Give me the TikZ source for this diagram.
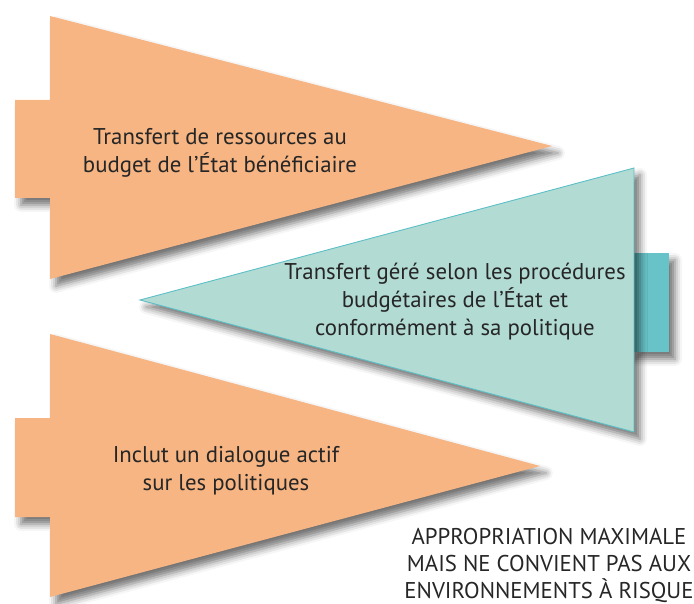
\documentclass[tikz,border=0pt]{standalone}
\usepackage{fontspec}
\setmainfont{PT Sans}
\usepackage{tikz}
\usetikzlibrary{shadows.blur}

\definecolor{peche}{HTML}{F6B583}
\definecolor{vertdeau}{HTML}{B2DBD3}
\definecolor{turquoise}{HTML}{67C3C8}
\definecolor{bordturq}{HTML}{5DBFC6}

\tikzset{
  ombre/.style={blur shadow={shadow xshift=6pt, shadow yshift=-7pt, shadow blur radius=7pt, shadow opacity=55}},
  fleche orange/.style={fill=peche, ombre},
  fleche verte/.style={fill=vertdeau, draw=bordturq, line width=0.9pt, ombre},
  onglet vert/.style={fill=turquoise, ombre},
  texte/.style={align=center, font=\fontsize{22.8}{28}\selectfont, text=black!85}
}

\begin{document}
\begin{tikzpicture}[x=1pt, y=-1pt]

  \useasboundingbox (0,0) rectangle (694,604);

  % Flèche du haut
  \fill[fleche orange] (50,16) -- (552,146) -- (50,279) -- (50,198) -- (15,198) -- (15,100) -- (50,100) -- cycle;

  % Flèche du milieu
  \fill[onglet vert] (630,253) rectangle (669,352);
  \filldraw[fleche verte] (634,168) -- (634,432) -- (140,300) -- cycle;

  % Flèche du bas
  \fill[fleche orange] (50,334) -- (540,466) -- (50,597) -- (50,517) -- (15,517) -- (15,418) -- (50,418) -- cycle;

  % Textes
  \node[texte] (budget) at (220,153) {Transfert de ressources au\\budget de l’État bénéficiaire};
  \node[texte] (procedures) at (455,302) {Transfert géré selon les procédures\\budgétaires de l’État et\\conformément à sa politique};
  \node[texte] (dialogue) at (226,471) {Inclut un dialogue actif\\sur les politiques};
  \node[texte, font=\fontsize{22.8}{27}\selectfont] (appropriation) at (549,565) {APPROPRIATION MAXIMALE\\MAIS NE CONVIENT PAS AUX\\ENVIRONNEMENTS À RISQUE};

\end{tikzpicture}
\end{document}
